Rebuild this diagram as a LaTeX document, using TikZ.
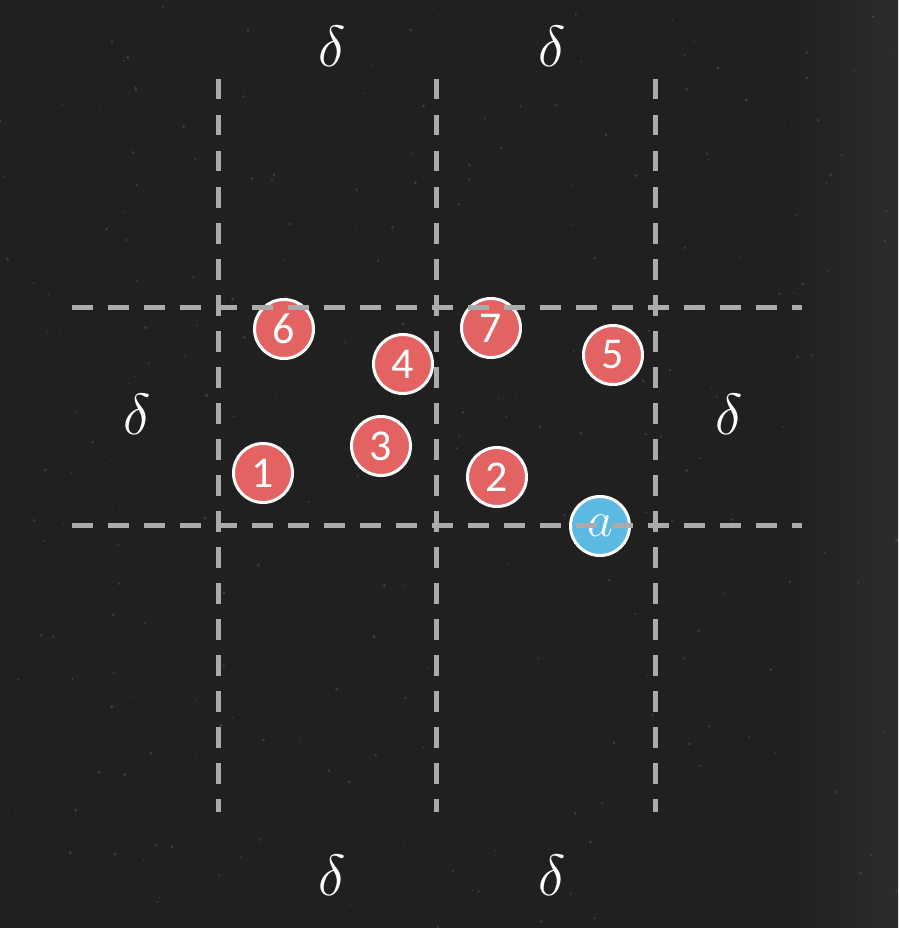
\RequirePackage{fix-cm}
\documentclass[tikz,border=0pt]{standalone}
\usepackage{fontspec}
\newfontfamily\numfont{Carlito}
\definecolor{board}{HTML}{202020}
\definecolor{boardlight}{HTML}{2C2C2C}
\definecolor{dashgrey}{HTML}{ABABAB}
\definecolor{dotred}{HTML}{E36363}
\definecolor{dotblue}{HTML}{5BB9E2}
\tikzset{
  reddot/.style={circle, fill=dotred, draw=white, line width=3pt, minimum size=59pt, inner sep=0pt, text=white, font=\numfont\fontsize{44}{44}\selectfont},
  bluedot/.style={circle, fill=dotblue, draw=white, line width=3pt, minimum size=59pt, inner sep=0pt, text=white, font=\fontsize{50}{50}\selectfont},
  gridline/.style={draw=dashgrey, line width=5pt, dash pattern=on 20.5pt off 15.5pt},
  deltalabel/.style={text=white, font=\fontsize{58}{58}\selectfont, inner sep=0pt},
  speck/.style={fill=white, opacity=0.12}
}
\begin{document}
\begin{tikzpicture}[x=1pt,y=-1pt]
\useasboundingbox (0,0) rectangle (898,928);
\fill[board] (0,0) rectangle (898,928);
\shade[left color=board, right color=boardlight] (790,0) rectangle (898,928);
\pgfmathsetseed{7}
\foreach \i in {1,...,260}{
  \pgfmathsetmacro{\sx}{898*rnd}
  \pgfmathsetmacro{\sy}{928*rnd}
  \pgfmathsetmacro{\sr}{0.6+1.2*rnd}
  \fill[speck] (\sx,\sy) circle[radius=\sr];
}
% circles
\node[reddot] (n6) at (284,329) {6};
\node[reddot] (n4) at (403,364) {\raisebox{-5pt}{4}};
\node[reddot] (n7) at (491,328) {\raisebox{-4pt}{7}};
\node[reddot] (n5) at (613,355) {\raisebox{-3pt}{5}};
\node[reddot] (n1) at (263,473) {1};
\node[reddot] (n3) at (381,446) {\raisebox{-5pt}{3}};
\node[reddot] (n2) at (497,477) {2};
\node[bluedot] (na) at (600,526) {\raisebox{-4pt}{$a$}};
% grid coordinates
\coordinate (v1t) at (218,79);  \coordinate (v1b) at (218,812);
\coordinate (v2t) at (436,79);  \coordinate (v2b) at (436,812);
\coordinate (v3t) at (655,79);  \coordinate (v3b) at (655,812);
\coordinate (h1l) at (72,307);  \coordinate (h1r) at (802,307);
\coordinate (h2l) at (72,525);  \coordinate (h2r) at (802,525);
\draw[gridline] (v1t) -- (v1b);
\draw[gridline] (v2t) -- (v2b);
\draw[gridline] (v3t) -- (v3b);
\draw[gridline] (h1l) -- (h1r);
\draw[gridline] (h2l) -- (h2r);
% deltas
\node[deltalabel] (dt1) at (332,46) {$\delta$};
\node[deltalabel] (dt2) at (552,46) {$\delta$};
\node[deltalabel] (db1) at (332,875) {$\delta$};
\node[deltalabel] (db2) at (552,875) {$\delta$};
\node[deltalabel] (dl) at (137,414) {$\delta$};
\node[deltalabel] (dr) at (729,414) {$\delta$};
\end{tikzpicture}
\end{document}
